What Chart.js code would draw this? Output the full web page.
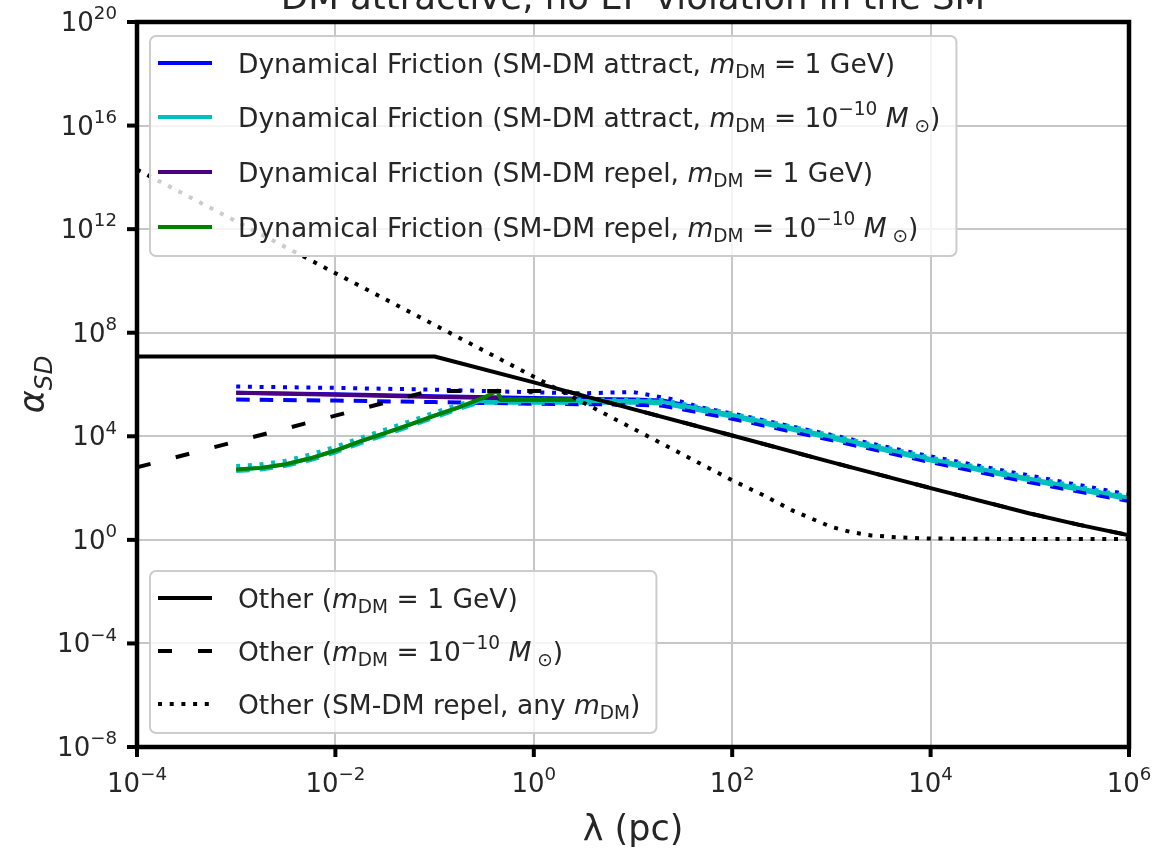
<!DOCTYPE html>
<html>
<head>
<meta charset="utf-8">
<script src="https://cdn.jsdelivr.net/npm/chart.js@4.4.0/dist/chart.umd.min.js"></script>
<style>
  html, body { margin: 0; padding: 0; background: #fff; overflow: hidden; }
</style>
</head>
<body>
<canvas id="chart" width="1156" height="851"></canvas>
<script>
// all values are log10 (lambda in pc, alpha_SD)

// Other constraints (black)
const lamOtherGeV = [-4, -1, 0, 1, 2, 3, 4, 5, 5.5, 6];
const otherGeV    = [7.08, 7.08, 6.08, 5.05, 4.03, 3.0, 2.0, 1.02, 0.58, 0.18];
const lamOtherSun = [-4, -1.05, 0.32, 1, 2, 3, 4, 5, 5.5, 6];
const otherSun    = [2.8, 5.75, 5.75, 5.05, 4.03, 3.0, 2.0, 1.02, 0.58, 0.18];
const lamOtherRep = [-4, -3, -2, -1, 0, 1, 2, 2.3, 2.6, 2.8, 3.0, 3.2, 3.4, 3.7, 4, 5, 6];
const otherRepel  = [14.3, 12.3, 10.3, 8.3, 6.3, 4.3, 2.3, 1.75, 1.15, 0.82, 0.5, 0.3, 0.17, 0.09, 0.05, 0.03, 0.03];

// Dynamical friction, attract, 1 GeV (blue)
const lamBlue    = [-3, -2, -1, 0, 0.5, 1, 1.3, 2, 3, 4, 5, 6];
const blueSolid  = [5.68, 5.62, 5.55, 5.48, 5.45, 5.42, 5.38, 4.8, 3.95, 3.1, 2.33, 1.6];
const blueDashed = [5.42, 5.38, 5.32, 5.26, 5.24, 5.22, 5.18, 4.68, 3.85, 3.0, 2.22, 1.5];
const lamBlueDot = [-3, -2, -1, 0, 0.5, 1, 1.4, 1.7, 2, 3, 4, 5, 6];
const blueDotted = [5.92, 5.87, 5.8, 5.7, 5.66, 5.71, 5.43, 5.1, 4.88, 4.05, 3.22, 2.48, 1.75];

// Dynamical friction, attract, 1e-10 Msun (cyan)
const lamCyan    = [-3, -2.75, -2.5, -2.25, -2, -1.75, -1.5, -1.25, -1, -0.75, -0.55, 0, 1, 1.3, 2, 3, 4, 5, 6];
const cyanSolid  = [2.72, 2.78, 2.92, 3.15, 3.45, 3.8, 4.12, 4.45, 4.8, 5.13, 5.36, 5.36, 5.36, 5.33, 4.82, 3.98, 3.12, 2.36, 1.62];
const cyanDotted = [2.85, 2.92, 3.06, 3.3, 3.6, 3.94, 4.26, 4.58, 4.92, 5.24, 5.42, 5.42, 5.42, 5.4, 4.88, 4.04, 3.18, 2.42, 1.68];
const cyanDashed = [2.66, 2.72, 2.86, 3.08, 3.38, 3.73, 4.05, 4.38, 4.73, 5.06, 5.3, 5.3, 5.3, 5.27, 4.76, 3.92, 3.06, 2.3, 1.56];

// Dynamical friction, repel (purple 1 GeV, green 1e-10 Msun)
const lamPurple   = [-3, -2, -1, -0.5, -0.37, -0.33, 0, 0.42];
const purpleSolid = [5.68, 5.6, 5.52, 5.49, 5.48, 5.42, 5.42, 5.42];
const lamGreen    = [-3, -2.75, -2.5, -2.25, -2, -1.75, -1.5, -1.25, -1, -0.75, -0.5, -0.37, -0.33, 0, 0.42];
const greenSolid  = [2.72, 2.78, 2.92, 3.15, 3.45, 3.8, 4.12, 4.45, 4.8, 5.13, 5.5, 5.76, 5.42, 5.42, 5.42];

const xTickExps = [-4, -2, 0, 2, 4, 6];
const yTickExps = [-8, -4, 0, 4, 8, 12, 16, 20];

const BLUE = '#0000ff', CYAN = '#00bfbf', INDIGO = '#4b0082', GREEN = '#008000', BLACK = '#000000';
const DASH = [13.5, 10], DOT = [4, 7.7], LONGDASH = [14, 26];
const FONT = '"DejaVu Sans", sans-serif';

const toPts = (xs, ys) => xs.map((x, i) => ({ x: 10 ** x, y: 10 ** ys[i] }));

function line(label, xs, ys, color, dash, order) {
  return {
    label, data: toPts(xs, ys), order,
    borderColor: color, borderWidth: 4, borderDash: dash,
    borderJoinStyle: 'round', pointRadius: 0, fill: false, tension: 0
  };
}

// mathtext-ish pieces
const mDM = [{ t: 'm', it: true }, { t: 'DM', sub: true }];
const tenMsun = [{ t: '10' }, { t: '\u221210', sup: true }, { t: ' ' }, { t: 'M', it: true }, { t: ' \u2299', sub: true }];

const legendTop = [
  { color: BLUE, dash: [], parts: [{ t: 'Dynamical Friction (SM-DM attract, ' }, ...mDM, { t: ' = 1 GeV)' }] },
  { color: CYAN, dash: [], parts: [{ t: 'Dynamical Friction (SM-DM attract, ' }, ...mDM, { t: ' = ' }, ...tenMsun, { t: ')' }] },
  { color: INDIGO, dash: [], parts: [{ t: 'Dynamical Friction (SM-DM repel, ' }, ...mDM, { t: ' = 1 GeV)' }] },
  { color: GREEN, dash: [], parts: [{ t: 'Dynamical Friction (SM-DM repel, ' }, ...mDM, { t: ' = ' }, ...tenMsun, { t: ')' }] }
];
const legendBottom = [
  { color: BLACK, dash: [], parts: [{ t: 'Other (' }, ...mDM, { t: ' = 1 GeV)' }] },
  { color: BLACK, dash: LONGDASH, parts: [{ t: 'Other (' }, ...mDM, { t: ' = ' }, ...tenMsun, { t: ')' }] },
  { color: BLACK, dash: DOT, parts: [{ t: 'Other (SM-DM repel, any ' }, ...mDM, { t: ')' }] }
];

function fontStr(size, italic) { return (italic ? 'oblique ' : '') + size + 'px ' + FONT; }

function richWidth(ctx, parts, size) {
  let w = 0;
  for (const p of parts) {
    ctx.font = fontStr(p.sub || p.sup ? size * 0.7 : size, p.it);
    w += ctx.measureText(p.t).width;
  }
  return w;
}

function drawRich(ctx, parts, x, y, size) {
  for (const p of parts) {
    const s = p.sub || p.sup ? size * 0.7 : size;
    ctx.font = fontStr(s, p.it);
    const dy = p.sub ? size * 0.22 : p.sup ? -size * 0.45 : 0;
    ctx.fillText(p.t, x, y + dy);
    x += ctx.measureText(p.t).width;
  }
  return x;
}

function drawLegend(ctx, entries, left, rows, size) {
  const textX = left + 88;
  let maxW = 0;
  entries.forEach(e => { maxW = Math.max(maxW, richWidth(ctx, e.parts, size)); });
  const top = rows[0] - 27, bottom = rows[rows.length - 1] + 29;
  const right = textX + maxW + 16;
  ctx.save();
  ctx.beginPath();
  ctx.roundRect(left, top, right - left, bottom - top, 6);
  ctx.fillStyle = 'rgba(255,255,255,0.8)';
  ctx.fill();
  ctx.strokeStyle = '#cccccc';
  ctx.lineWidth = 2;
  ctx.stroke();
  entries.forEach((e, i) => {
    const y = rows[i];
    ctx.beginPath();
    ctx.setLineDash(e.dash);
    ctx.strokeStyle = e.color;
    ctx.lineWidth = 4;
    ctx.moveTo(left + 8, y);
    ctx.lineTo(left + 62, y);
    ctx.stroke();
    ctx.setLineDash([]);
    ctx.fillStyle = '#262626';
    drawRich(ctx, e.parts, textX, y + 9.5, size);
  });
  ctx.restore();
}

const decor = {
  id: 'decor',
  afterDatasetsDraw(chart) {
    const { ctx, chartArea: a, scales } = chart;
    ctx.save();
    ctx.textAlign = 'left';
    ctx.textBaseline = 'alphabetic';

    // frame
    ctx.strokeStyle = BLACK;
    ctx.lineWidth = 4.5;
    ctx.strokeRect(a.left, a.top, a.right - a.left, a.bottom - a.top);

    // ticks and tick labels
    ctx.lineWidth = 4;
    ctx.fillStyle = '#262626';
    const fs = 26;
    xTickExps.forEach(e => {
      const px = scales.x.getPixelForValue(10 ** e);
      ctx.beginPath();
      ctx.moveTo(px, a.bottom);
      ctx.lineTo(px, a.bottom + 10);
      ctx.stroke();
      const parts = [{ t: '10' }, { t: String(e).replace('-', '\u2212'), sup: true }];
      const w = richWidth(ctx, parts, fs);
      drawRich(ctx, parts, px - w / 2, a.bottom + 45, fs);
    });
    yTickExps.forEach(e => {
      const py = scales.y.getPixelForValue(10 ** e);
      ctx.beginPath();
      ctx.moveTo(a.left - 10, py);
      ctx.lineTo(a.left, py);
      ctx.stroke();
      const parts = [{ t: '10' }, { t: String(e).replace('-', '\u2212'), sup: true }];
      const w = richWidth(ctx, parts, fs);
      drawRich(ctx, parts, a.left - 20 - w, py + 9, fs);
    });

    // axis titles
    ctx.font = fontStr(35, false);
    ctx.textAlign = 'center';
    ctx.fillText('\u03bb (pc)', (a.left + a.right) / 2, 840);
    ctx.textAlign = 'left';
    const yParts = [{ t: '\u03b1', it: true }, { t: 'SD', sub: true, it: true }];
    const yw = richWidth(ctx, yParts, 35);
    ctx.save();
    ctx.translate(44, (a.top + a.bottom) / 2);
    ctx.rotate(-Math.PI / 2);
    drawRich(ctx, yParts, -yw / 2, 0, 35);
    ctx.restore();

    // title (top is cut by the page edge)
    ctx.font = fontStr(35.5, false);
    ctx.textAlign = 'center';
    ctx.fillText('DM attractive, no EP violation in the SM', (a.left + a.right) / 2, 9);
    ctx.textAlign = 'left';

    // legends
    drawLegend(ctx, legendTop, 150, [63, 117, 172, 227], 26.5);
    drawLegend(ctx, legendBottom, 150, [598, 651, 704], 26.5);
    ctx.restore();
  }
};

const datasets = [
  line('Other (SM-DM repel, any m_DM)', lamOtherRep, otherRepel, BLACK, DOT, 3),
  line('Other (m_DM = 1e-10 Msun)', lamOtherSun, otherSun, BLACK, LONGDASH, 2),
  line('Other (m_DM = 1 GeV)', lamOtherGeV, otherGeV, BLACK, [], 1),
  line('DF repel 1e-10 Msun', lamGreen, greenSolid, GREEN, [], 4),
  line('DF repel 1 GeV', lamPurple, purpleSolid, INDIGO, [], 5),
  line('DF attract 1e-10 Msun dotted', lamCyan, cyanDotted, CYAN, DOT, 6),
  line('DF attract 1e-10 Msun dashed', lamCyan, cyanDashed, CYAN, DASH, 7),
  line('DF attract 1e-10 Msun', lamCyan, cyanSolid, CYAN, [], 8),
  line('DF attract 1 GeV dotted', lamBlueDot, blueDotted, BLUE, DOT, 9),
  line('DF attract 1 GeV dashed', lamBlue, blueDashed, BLUE, DASH, 10),
  line('DF attract 1 GeV', lamBlue, blueSolid, BLUE, [], 11)
];

new Chart(document.getElementById('chart'), {
  type: 'line',
  data: { datasets },
  options: {
    responsive: false,
    animation: false,
    events: [],
    layout: { padding: { left: 137, right: 27, top: 22, bottom: 104 } },
    plugins: { legend: { display: false }, tooltip: { enabled: false }, title: { display: false } },
    scales: {
      x: {
        type: 'logarithmic', min: 1e-4, max: 1e6,
        afterBuildTicks: s => { s.ticks = xTickExps.map(e => ({ value: 10 ** e })); },
        ticks: { display: false },
        grid: { color: '#c6c6c6', lineWidth: 2, drawTicks: false },
        border: { display: false }
      },
      y: {
        type: 'logarithmic', min: 1e-8, max: 1e20,
        afterBuildTicks: s => { s.ticks = yTickExps.map(e => ({ value: 10 ** e })); },
        ticks: { display: false },
        grid: { color: '#c6c6c6', lineWidth: 2, drawTicks: false },
        border: { display: false }
      }
    }
  },
  plugins: [decor]
});
</script>
</body>
</html>
